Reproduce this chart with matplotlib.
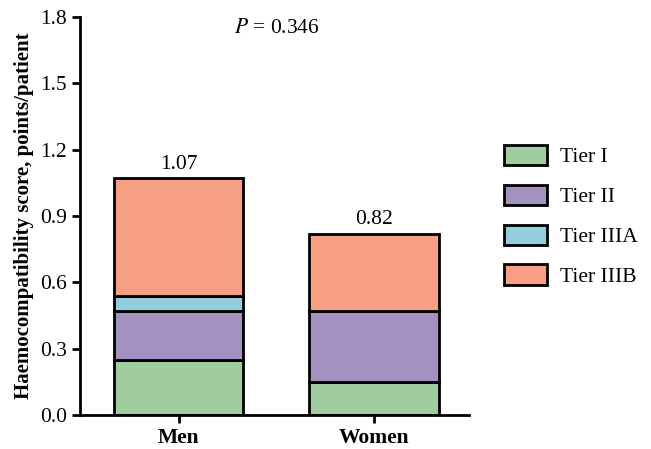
import matplotlib.pyplot as plt
import numpy as np

plt.rcParams['font.family'] = ['Liberation Serif', 'DejaVu Serif']
plt.rcParams['mathtext.fontset'] = 'stix'

groups = ['Men', 'Women']
tiers = ['Tier I', 'Tier II', 'Tier IIIA', 'Tier IIIB']
tier1 = [0.25, 0.15]
tier2 = [0.22, 0.32]
tier3a = [0.07, 0.0]
tier3b = [0.53, 0.35]
totals = ['1.07', '0.82']
colors = ['#9fcd9f', '#a391bf', '#92cedb', '#f79e83']

fig = plt.figure(figsize=(6.51, 4.49), dpi=100)
ax = fig.add_axes([0.123, 0.076, 0.597, 0.886])

x = np.arange(len(groups))
bottom = np.zeros(len(groups))
for name, vals, c in zip(tiers, [tier1, tier2, tier3a, tier3b], colors):
    vals = np.array(vals)
    ax.bar(x, vals, 0.663, bottom=bottom, color=c, edgecolor='black', linewidth=2, label=name)
    bottom += vals

for xi, top, lab in zip(x, bottom, totals):
    ax.text(xi, top + 0.02, lab, ha='center', va='bottom', fontsize=15.5)

ax.text(0.5, 1.75, '$P$ = 0.346', ha='center', va='center', fontsize=15.5)

ax.set_xlim(-0.505, 1.485)
ax.set_ylim(0, 1.8)
ax.set_yticks(np.arange(0, 1.81, 0.3))
ax.set_yticklabels([f'{v:.1f}' for v in np.arange(0, 1.81, 0.3)])
ax.set_xticks(x)
ax.set_xticklabels(groups, fontweight='bold', fontsize=15.5)
ax.tick_params(axis='y', labelsize=15.5, width=2, length=6)
ax.tick_params(axis='x', width=2, length=6)
ax.set_ylabel('Haemocompatibility score, points/patient', fontweight='bold', fontsize=15)
for s in ['top', 'right']:
    ax.spines[s].set_visible(False)
for s in ['left', 'bottom']:
    ax.spines[s].set_linewidth(2)

ax.legend(loc='center left', bbox_to_anchor=(1.04, 0.5), frameon=False, fontsize=15.5,
          handlelength=2.0, handleheight=1.1, handletextpad=0.6, labelspacing=0.8)

fig.savefig('out.png', dpi=100)
